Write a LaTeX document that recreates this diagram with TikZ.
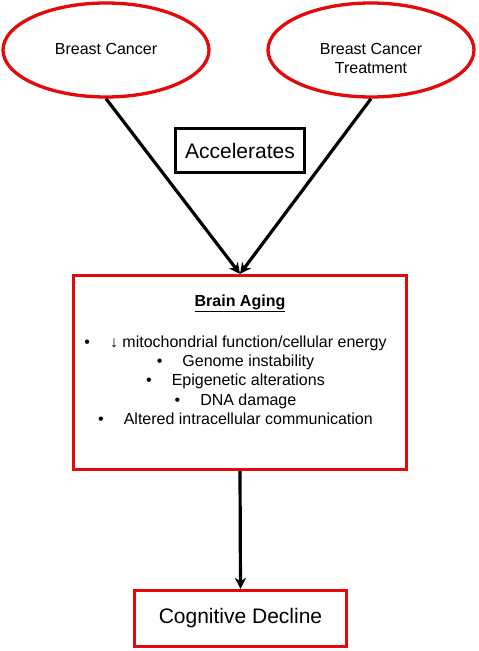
\documentclass[tikz,border=0pt]{standalone}
\usepackage{fontspec}
\setmainfont{Liberation Sans}
\usetikzlibrary{shapes.geometric,arrows.meta}
\definecolor{bred}{RGB}{228,10,10}
\begin{document}
\begin{tikzpicture}[x=1pt,y=-1pt,
  oval/.style={ellipse,draw=bred,line width=3.3pt,minimum width=206pt,minimum height=94pt,inner sep=0pt},
  redbox/.style={rectangle,draw=bred,line width=3.3pt,inner sep=0pt},
  blackbox/.style={rectangle,draw=black,line width=3.3pt,inner sep=0pt},
  conn/.style={line width=3.2pt,-{Stealth[length=11pt,width=11pt]}},
  txtsmall/.style={font=\fontsize{16}{19.3}\selectfont,align=center,inner sep=0pt},
  txtbig/.style={font=\fontsize{21}{25}\selectfont,inner sep=0pt}
]
\useasboundingbox (0,0) rectangle (479,651);
\fill[white] (0,0) rectangle (479,651);

\node[oval] (e1) at (106,50) {};
\node[txtsmall] (t1) at (106,49) {Breast Cancer};
\node[oval] (e2) at (371,50) {};
\node[txtsmall] (t2) at (371,58.5) {Breast Cancer\\Treatment};

\node[blackbox,minimum width=129pt,minimum height=44pt] (acc) at (240,150.5) {};
\node[txtbig] (acct) at (240,151) {Accelerates};

\node[redbox,minimum width=333pt,minimum height=194pt] (brain) at (240,372.5) {};
\node[txtsmall] (title) at (240,303) {\textbf{\underline{Brain Aging}}};
\node[txtsmall] (list) at (235.5,380) {%
\textbullet\hspace{20pt}↓ mitochondrial function/cellular energy\\
\textbullet\hspace{20pt}Genome instability\\
\textbullet\hspace{20pt}Epigenetic alterations\\
\textbullet\hspace{20pt}DNA damage\\
\textbullet\hspace{20pt}Altered intracellular communication};

\node[redbox,minimum width=212pt,minimum height=56pt] (cog) at (240.5,618.5) {};
\node[txtbig] (cogt) at (240.5,618.5) {Cognitive Decline};

\draw[conn] (e1.south) -- (brain.north);
\draw[conn] (e2.south) -- (brain.north);
\draw[conn] (brain.south) -- (cog.north);
\end{tikzpicture}
\end{document}
